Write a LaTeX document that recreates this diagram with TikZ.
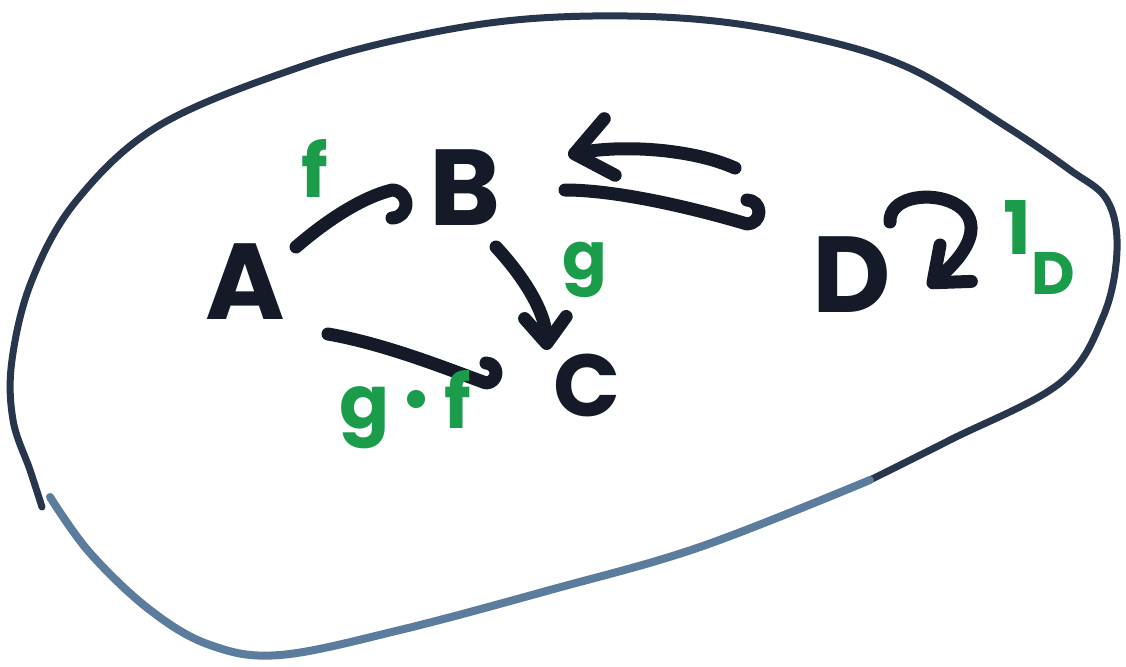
\documentclass[tikz,border=0pt]{standalone}
\usepackage{fontspec}
\setmainfont{Poppins}
\usetikzlibrary{arrows.meta}
\definecolor{ink}{HTML}{141A28}
\definecolor{rimdark}{HTML}{27354D}
\definecolor{rimlight}{HTML}{5B7C9C}
\definecolor{mark}{HTML}{1A9C4A}
\tikzset{
  obj/.style={font=\fontsize{108}{108}\selectfont\bfseries, text=ink, inner sep=0pt},
  lab/.style={font=\fontsize{74}{74}\selectfont\bfseries, text=mark, inner sep=0pt},
  mor/.style={draw=ink, line width=13pt, line cap=round, line join=round},
  fullhead/.style={-{Straight Barb[length=#1, width=1.6*#1, round]}},
  rim/.style={line width=7pt, line cap=round, line join=round}
}
\begin{document}
\begin{tikzpicture}[x=1pt,y=-1pt]
\useasboundingbox (0,0) rectangle (1126,666);
% outline of the category
\draw[rim, draw=rimdark] plot[smooth, tension=0.6] coordinates {
  (42,507) (30,470) (13,420) (12,360) (32,280) (77,200) (160,125) (300,67)
  (420,35) (540,18) (680,18) (800,35) (907,67) (1007,127) (1070,170)
  (1107,200) (1117,250) (1103,317) (1060,383) (950,440) (870,480)};
\draw[rim, draw=rimlight, line width=8pt] plot[smooth, tension=0.6] coordinates {
  (870,480) (700,547) (550,590) (400,630) (280,655) (210,645) (150,610)
  (90,553) (50,497)};
% objects
\node[obj] (A) at (245,282) {A};
\node[obj] (B) at (465,188) {B};
\node[obj, font=\fontsize{88}{88}\selectfont\bfseries] (C) at (587,385) {C};
\node[obj] (D) at (852,275) {D};
% morphisms
\draw[mor] ([shift={(51,-35)}]A.center) .. controls (325,222) and (360,198) .. ([shift={(-73,2)}]B.center)
  arc[start angle=-90, end angle=90, radius=14];
\draw[mor, fullhead=26pt] ([shift={(31,59)}]B.center) .. controls (522,275) and (545,310) .. ([shift={(-40,-35)}]C.center);
\draw[mor] ([shift={(83,52)}]A.center) .. controls (385,344) and (445,368) .. ([shift={(-101,-2)}]C.center)
  arc[start angle=90, end angle=-90, radius=10];
\draw[mor, fullhead=36pt] ([shift={(-117,-107)}]D.center) .. controls (690,148) and (620,145) .. ([shift={(103,-33)}]B.center);
\draw[mor] ([shift={(100,2)}]B.center) .. controls (620,190) and (700,210) .. ([shift={(-105,-51)}]D.center)
  arc[start angle=90, end angle=-90, radius=12];
\draw[mor, fullhead=30pt] ([shift={(38,-53)}]D.center) .. controls (888,175) and (1035,195) .. ([shift={(76,12)}]D.center);
% labels
\node[lab] (f) at (315,168) {f};
\node[lab, font=\fontsize{66}{66}\selectfont\bfseries] (g) at (585,270) {g};
\node[lab] (gf) at (405,410) {g\,\raisebox{0.12em}{\fontsize{60}{60}\selectfont •}\,f};
\node[lab, anchor=north west] (id) at (1003,200) {1\raisebox{-0.55em}{\fontsize{60}{60}\selectfont D}};
\end{tikzpicture}
\end{document}
